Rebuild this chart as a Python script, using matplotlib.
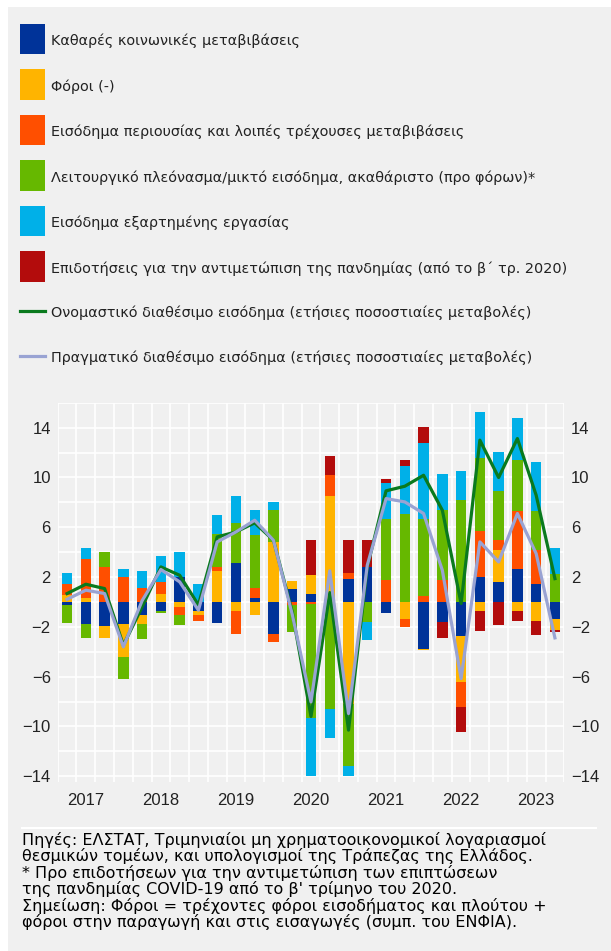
import matplotlib
matplotlib.use('Agg')
import matplotlib.pyplot as plt
import numpy as np
from matplotlib.patches import Rectangle
from matplotlib.lines import Line2D

plt.rcParams['font.family'] = ['Liberation Sans', 'DejaVu Sans']

# quarters 2017Q1 .. 2023Q3
quarters = [f"{y}Q{q}" for y in range(2017, 2024) for q in range(1, 5)][:27]
years = ['2017', '2018', '2019', '2020', '2021', '2022', '2023']

social = [-0.27, -1.79, -1.95, -1.79, -1.07, -0.72, 1.98, -0.75, -1.69, 3.11, 0.32, -2.6, 1.07,
          0.62, 0.0, 1.82, 2.81, -0.88, 0.0, -3.75, -1.61, -2.76, 2.01, 1.61, 2.62, 1.45, -1.39]
taxes = [0.59, 0.32, -0.94, -2.62, -0.72, 0.62, -0.43, -0.32, 2.46, -0.75, -1.07, 4.82, 0.59,
         1.53, 8.49, -8.2, 0.0, 0.0, -1.39, -0.13, 0.0, -3.69, -0.75, 2.54, -0.75, -1.55, -0.83]
property_inc = [0.88, 3.1, 2.81, 1.98, 1.12, 0.99, -0.64, -0.48, 0.35, -1.85, 0.8, -0.62, -0.27,
                -0.15, 1.69, 0.48, 0.0, 1.74, -0.62, 0.46, 1.74, -2.01, 3.69, 0.83, 4.66, 2.7, 0.0]
surplus = [-1.42, -1.1, 1.18, -1.77, -1.23, -0.16, -0.8, 0.0, 2.68, 3.19, 4.23, 2.54, -2.14,
           -9.2, -8.6, -5.0, -1.6, 4.9, 7.1, 6.18, 5.62, 8.22, 5.89, 3.91, 4.15, 3.13, 2.28]
wages = [0.86, 0.88, 0.0, 0.64, 1.34, 2.06, 2.01, 1.42, 1.47, 2.2, 2.0, 0.64, 0.0,
         -4.66, -2.3, -0.8, -1.48, 2.92, 3.8, 6.1, 2.95, 2.28, 3.64, 3.13, 3.32, 3.94, 2.03]
subsidies = [0, 0, 0, 0, 0, 0, 0, 0, 0, 0, 0, 0, 0,
             2.81, 1.53, 2.65, 2.14, 0.29, 0.48, 1.29, -1.29, -2.01, -1.61, -1.87, -0.8, -1.12, -0.19]
nominal = [0.67, 1.42, 1.07, -3.48, -0.4, 2.81, 2.14, -0.25, 5.22, 5.62, 6.35, 4.95, -0.8,
           -9.2, 0.75, -10.3, 2.8, 8.92, 9.29, 10.17, 7.36, -0.13, 12.99, 9.99, 13.12, 8.57, 1.87]
real = [0.21, 0.94, 0.67, -3.61, 0.1, 2.6, 1.61, -0.67, 4.82, 5.62, 6.56, 4.95, -1.0,
        -8.03, 2.5, -8.97, 2.95, 8.3, 8.03, 7.1, 2.54, -6.16, 4.82, 3.21, 7.1, 3.88, -2.89]

labels = ['Καθαρές κοινωνικές μεταβιβάσεις',
          'Φόροι (-)',
          'Εισόδημα περιουσίας και λοιπές τρέχουσες μεταβιβάσεις',
          'Λειτουργικό πλεόνασμα/μικτό εισόδημα, ακαθάριστο (προ φόρων)*',
          'Εισόδημα εξαρτημένης εργασίας',
          'Επιδοτήσεις για την αντιμετώπιση της πανδημίας (από το β΄ τρ. 2020)']
line_labels = ['Ονομαστικό διαθέσιμο εισόδημα (ετήσιες ποσοστιαίες μεταβολές)',
               'Πραγματικό διαθέσιμο εισόδημα (ετήσιες ποσοστιαίες μεταβολές)']
colors = ['#003399', '#ffb400', '#ff4f00', '#66b800', '#00b0e8', '#b30c0c']
line_colors = ['#0a7a1e', '#99a3d3']

notes = ["Πηγές: ΕΛΣΤΑΤ, Τριμηνιαίοι μη χρηματοοικονομικοί λογαριασμοί",
         "θεσμικών τομέων, και υπολογισμοί της Τράπεζας της Ελλάδος.",
         "* Προ επιδοτήσεων για την αντιμετώπιση των επιπτώσεων",
         "της πανδημίας COVID-19 από το β' τρίμηνο του 2020.",
         "Σημείωση: Φόροι = τρέχοντες φόροι εισοδήματος και πλούτου +",
         "φόροι στην παραγωγή και στις εισαγωγές (συμπ. του ΕΝΦΙΑ)."]

W, H = 611, 951
BG = '#f0f0f0'
fig = plt.figure(figsize=(W / 100, H / 100), dpi=100)
fig.patch.set_facecolor('white')
fig.patches.append(Rectangle((8 / W, 0), 1, 1 - 7 / H, transform=fig.transFigure,
                             facecolor=BG, edgecolor='none', zorder=-5))

# axes
left, right, top, bottom = 57.7, 564.3, 402.7, 782
ax = fig.add_axes([left / W, 1 - bottom / H, (right - left) / W, (bottom - top) / H])
ax.set_zorder(2)
ax.set_facecolor(BG)

x = np.arange(len(quarters))
series = [social, taxes, property_inc, surplus, wages, subsidies]
pos_base = np.zeros(len(x))
neg_base = np.zeros(len(x))
for vals, c in zip(series, colors):
    v = np.array(vals, dtype=float)
    p = np.where(v > 0, v, 0)
    n = np.where(v < 0, v, 0)
    ax.bar(x, p, bottom=pos_base, width=0.55, color=c, zorder=2, linewidth=0)
    ax.bar(x, n, bottom=neg_base, width=0.55, color=c, zorder=2, linewidth=0)
    pos_base += p
    neg_base += n

ax.plot(x, nominal, color=line_colors[0], lw=2.3, zorder=3)
ax.plot(x, real, color=line_colors[1], lw=2.3, zorder=4)

ax.set_xlim(-0.5, len(x) - 0.5)
ax.set_ylim(16 - (bottom - top) / 12.45, 16)
ax.set_yticks(np.arange(-14, 15, 4))
ax.set_yticks(np.arange(-12, 17, 4), minor=True)
ax.set_xticks(np.arange(1, len(x), 4))
ax.set_xticklabels(years)
ax.set_xticks(np.arange(-0.5, len(x), 1), minor=True)
ax.grid(axis='y', which='both', color='white', lw=1.2, zorder=1)
ax.grid(axis='x', which='minor', color='white', lw=1.2, zorder=1)
ax.set_axisbelow(True)
for s in ax.spines.values():
    s.set_visible(False)
ax.tick_params(axis='both', which='both', length=0, labelsize=12, labelcolor='#222222')
ax.tick_params(axis='y', labelleft=True, labelright=True, pad=5)
ax.tick_params(axis='x', pad=8)

# legend
y0, dy = 39, 45.5
for i, (lab, c) in enumerate(zip(labels, colors)):
    yc = y0 + dy * i
    fig.patches.append(Rectangle((20 / W, 1 - (yc + 15.3) / H), 25 / W, 30.6 / H,
                                 transform=fig.transFigure, facecolor=c, edgecolor='none'))
    fig.text(51 / W, 1 - (yc + 2) / H, lab, fontsize=10.4, va='center', ha='left',
             color='#222222', family='DejaVu Sans')
for j, (lab, c) in enumerate(zip(line_labels, line_colors)):
    yc = y0 + dy * (6 + j) - 1.5
    fig.add_artist(Line2D([20 / W, 45 / W], [1 - yc / H] * 2, color=c, lw=2.3))
    fig.text(51 / W, 1 - (yc + 2) / H, lab, fontsize=10.4, va='center', ha='left',
             color='#222222', family='DejaVu Sans')

# notes
fig.add_artist(Line2D([22 / W, 596 / W], [1 - 828 / H] * 2, color='white', lw=1.5))
for k, t in enumerate(notes):
    fig.text(22 / W, 1 - (840 + 16.4 * k) / H, t, fontsize=11.5, va='center', ha='left',
             color='black', family='DejaVu Sans')

plt.savefig('out.png', dpi=100, facecolor=fig.get_facecolor())
